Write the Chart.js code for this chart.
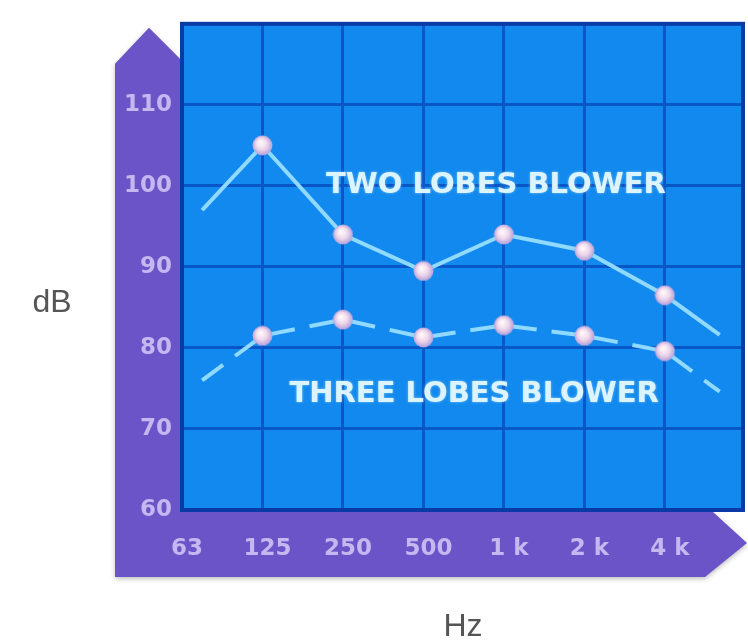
<!DOCTYPE html>
<html>
<head>
<meta charset="utf-8">
<script src="https://cdn.jsdelivr.net/npm/chart.js@4.4.1/dist/chart.umd.min.js"></script>
<style>
  html, body { margin: 0; padding: 0; background: #fff; }
  #wrap { width: 748px; height: 644px; }
</style>
</head>
<body>
<div id="wrap"><canvas id="graphique-souffleur"></canvas></div>
<script>
// Bandes d'octave : la position 0 correspond à 63 Hz (bord gauche)
const bandLabels = ["63", "125", "250", "500", "1 k", "2 k", "4 k"];
const bandPositions = [0.25, 1, 2, 3, 4, 5, 6, 6.68];
const twoLobesDb = [97, 105, 94, 89.5, 94, 92, 86.5, 81.6];
const threeLobesDb = [76, 81.5, 83.5, 81.3, 82.8, 81.5, 79.6, 74.6];
const dbTicks = [60, 70, 80, 90, 100, 110];
const seriesNames = ["TWO LOBES BLOWER", "THREE LOBES BLOWER"];
// Emplacement des étiquettes des courbes (unités des axes)
const seriesLabelX = [3.9, 3.63];
const seriesLabelY = [100, 74.3];

// Marqueur "bille" dessiné une fois
function creerBille() {
    const c = document.createElement("canvas");
    c.width = 21;
    c.height = 21;
    const ctx = c.getContext("2d");
    const g = ctx.createRadialGradient(8.5, 7.5, 1, 10.5, 10.5, 10.5);
    g.addColorStop(0, "#fff8fb");
    g.addColorStop(0.5, "#eed6ea");
    g.addColorStop(1, "#ab9cda");
    ctx.fillStyle = g;
    ctx.beginPath();
    ctx.arc(10.5, 10.5, 10, 0, Math.PI * 2);
    ctx.fill();
    return c;
}
const bille = creerBille();

const points = (valeurs) => valeurs.map((v, i) => ({x: bandPositions[i], y: v}));
const rayons = bandPositions.map((p) => Number.isInteger(p) ? 10 : 0);

// Cadre violet avec flèches + fond bleu
const cadre = {
    id: "cadre",
    beforeDraw(chart) {
        const {ctx, chartArea: a} = chart;
        ctx.save();
        ctx.shadowColor = "rgba(0,0,0,0.25)";
        ctx.shadowBlur = 5;
        ctx.shadowOffsetY = 2;
        ctx.fillStyle = "#6a54c8";
        ctx.beginPath();
        ctx.moveTo(a.left - 67, a.top + 40);
        ctx.lineTo(a.left - 33, a.top + 4);
        ctx.lineTo(a.left + 3, a.top + 40);
        ctx.lineTo(a.left + 3, a.bottom + 2);
        ctx.lineTo(a.right - 30, a.bottom + 2);
        ctx.lineTo(a.right + 4, a.bottom + 33);
        ctx.lineTo(a.right - 38, a.bottom + 67);
        ctx.lineTo(a.left - 67, a.bottom + 67);
        ctx.closePath();
        ctx.fill();
        ctx.restore();

        ctx.save();
        ctx.fillStyle = "#1189ee";
        ctx.fillRect(a.left, a.top, a.right - a.left, a.bottom - a.top);
        ctx.restore();

        ctx.save();
        ctx.fillStyle = "#555";
        ctx.font = "32px 'Liberation Sans'";
        ctx.textAlign = "center";
        ctx.textBaseline = "middle";
        ctx.fillText("dB", 52, 303);
        ctx.fillText("Hz", 463, 627);
        ctx.restore();
    },
    beforeDatasetsDraw(chart) {
        const {ctx, chartArea: a} = chart;
        ctx.save();
        ctx.strokeStyle = "#0a3aa6";
        ctx.lineWidth = 4;
        ctx.strokeRect(a.left, a.top, a.right - a.left, a.bottom - a.top);
        ctx.restore();
    },
    afterDatasetsDraw(chart) {
        const {ctx, scales} = chart;
        ctx.save();
        ctx.font = "bold 29px 'DejaVu Sans'";
        ctx.textAlign = "center";
        ctx.textBaseline = "middle";
        ctx.fillStyle = "#dcf4ff";
        ctx.shadowColor = "rgba(190,235,255,0.6)";
        ctx.shadowBlur = 3;
        for (let i = 0; i < seriesNames.length; i++) {
            ctx.fillText(seriesNames[i],
                scales.x.getPixelForValue(seriesLabelX[i]),
                scales.y.getPixelForValue(seriesLabelY[i]));
        }
        ctx.restore();
    },
};

const police = {family: "'DejaVu Sans'", size: 23, weight: "bold"};

const config = {
    type: "line",
    data: {
        datasets: [{
            label: seriesNames[0],
            data: points(twoLobesDb),
            borderColor: "#90d9ff",
            borderWidth: 4,
            pointStyle: bille,
            pointRadius: rayons,
            tension: 0,
        }, {
            label: seriesNames[1],
            data: points(threeLobesDb),
            borderColor: "#90d9ff",
            borderWidth: 4,
            borderDash: [26, 15],
            pointStyle: bille,
            pointRadius: rayons,
            tension: 0,
        }],
    },
    options: {
        responsive: true,
        maintainAspectRatio: false,
        animation: false,
        layout: {padding: {top: 18, right: 5, left: 0, bottom: 0}},
        plugins: {legend: {display: false}, tooltip: {enabled: false}},
        scales: {
            x: {
                type: "linear",
                min: 0,
                max: 6.97,
                afterFit: (s) => { s.height = 134; },
                afterBuildTicks: (s) => {
                    s.ticks = bandLabels.map((_, i) => ({value: i}));
                },
                grid: {color: "#0956c6", lineWidth: 3, drawTicks: false},
                border: {display: false},
                ticks: {
                    padding: 25,
                    labelOffset: 5,
                    color: "#c4b8f0",
                    font: police,
                    callback: (v) => bandLabels[v],
                },
            },
            y: {
                min: 60,
                max: 120,
                afterFit: (s) => { s.width = 182; },
                afterBuildTicks: (s) => {
                    s.ticks = dbTicks.concat([120]).map((v) => ({value: v}));
                },
                grid: {color: "#0956c6", lineWidth: 3, drawTicks: false},
                border: {display: false},
                ticks: {
                    padding: 10,
                    color: "#c4b8f0",
                    font: police,
                    callback: (v) => dbTicks.includes(v) ? String(v) : "",
                },
            },
        },
    },
    plugins: [cadre],
};

// eslint-disable-next-line no-undef
const graphique = new Chart(document.querySelector("#graphique-souffleur"), config);
</script>
</body>
</html>
